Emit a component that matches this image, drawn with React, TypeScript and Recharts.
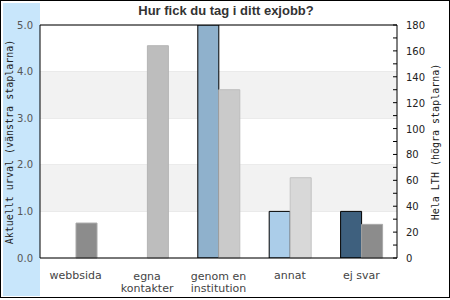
import { BarChart, Bar, XAxis, YAxis, Cell, CartesianGrid, ReferenceArea, ReferenceLine } from "recharts";

const categories = ["webbsida", "egna\nkontakter", "genom en\ninstitution", "annat", "ej svar"];
const urval = [0, 0, 5, 1, 1];
const lth = [27, 164, 130, 62, 26];
const leftTicks = [0, 1, 2, 3, 4, 5];
const rightTicks = [0, 10, 20, 30, 40, 50, 60, 70, 80, 90, 100, 110, 120, 130, 140, 150, 160, 170, 180];

const urvalColors = ["#8fb1cc", "#8fb1cc", "#8fb1cc", "#abcde9", "#3e607e"];
const lthColors = ["#8c8c8c", "#bdbdbd", "#cacaca", "#d8d8d8", "#8c8c8c"];
const lthStrokes = ["#a8a8a8", "#b4b4b4", "#bdbdbd", "#c2c2c2", "#a8a8a8"];

const data = categories.map((name, i) => ({ name, urval: urval[i], lth: lth[i] }));

const FONT = "'DejaVu Sans', sans-serif";
const MONO = "'DejaVu Sans Mono', monospace";

function CategoryTick({ x, y, payload }: any) {
  const lines = String(payload.value).split("\n");
  const first = lines.length > 1 ? 20 : 19;
  return (
    <text x={x} y={y} textAnchor="middle" fontFamily={FONT} fontSize={11} fill="#444">
      {lines.map((l, i) => (
        <tspan key={i} x={x} dy={i === 0 ? first : 12}>
          {l}
        </tspan>
      ))}
    </text>
  );
}

function RightTick({ x, y, payload }: any) {
  return (
    <g>
      <line x1={x - 4} y1={y} x2={x} y2={y} stroke="#000" />
      {payload.value % 20 === 0 && (
        <text x={x + 9} y={y + 4} textAnchor="start" fontFamily={FONT} fontSize={10} fill="#222">
          {payload.value}
        </text>
      )}
    </g>
  );
}

export default function App() {
  return (
    <div style={{ position: "absolute", left: 0, top: 0, width: 450, height: 300 }}>
      <style>{`body{margin:0}`}</style>
      <div
        style={{
          position: "absolute",
          left: 0,
          top: 0,
          width: 448,
          height: 296,
          border: "1px solid #000",
        }}
      />
      <div style={{ position: "absolute", left: 3, top: 3, width: 37, height: 293, background: "#c8e6fb" }} />
      <div
        style={{
          position: "absolute",
          left: 0,
          top: 3,
          width: 452,
          textAlign: "center",
          fontFamily: "'Liberation Sans', Arial, sans-serif",
          fontWeight: "bold",
          fontSize: 13,
          color: "#333",
        }}
      >
        Hur fick du tag i ditt exjobb?
      </div>
      <div style={{ position: "absolute", left: 0, top: 0 }}>
        <BarChart
          width={450}
          height={300}
          data={data}
          margin={{ top: 25, right: 0, bottom: 0, left: 0 }}
          barSize={21}
          barGap={0}
        >
          <ReferenceArea yAxisId="left" y1={1} y2={2} fill="#f2f2f2" fillOpacity={1} stroke="none" />
          <ReferenceArea yAxisId="left" y1={3} y2={4} fill="#f2f2f2" fillOpacity={1} stroke="none" />
          <CartesianGrid yAxisId="left" vertical={false} stroke="#e0e0e0" />
          <XAxis
            dataKey="name"
            height={42}
            axisLine={{ stroke: "#000" }}
            tickLine={false}
            tickSize={0}
            interval={0}
            tick={<CategoryTick />}
          />
          <YAxis
            yAxisId="left"
            width={40}
            domain={[0, 5]}
            ticks={leftTicks}
            allowDataOverflow
            axisLine={{ stroke: "#000" }}
            tickLine={false}
            tickSize={0}
            tickMargin={7}
            tickFormatter={(v) => Number(v).toFixed(1)}
            tick={{ fontFamily: FONT, fontSize: 10, fill: "#555" }}
            label={{
              content: () => (
                <text
                  transform="translate(13,142) rotate(-90)"
                  textAnchor="middle"
                  fontFamily={MONO}
                  fontSize={10}
                  fill="#222"
                >
                  Aktuellt urval (vänstra staplarna)
                </text>
              ),
            }}
          />
          <YAxis
            yAxisId="right"
            orientation="right"
            width={53}
            domain={[0, 180]}
            ticks={rightTicks}
            interval={0}
            axisLine={{ stroke: "#000" }}
            tickLine={false}
            tickSize={0}
            tickMargin={0}
            tick={<RightTick />}
            label={{
              content: () => (
                <text
                  transform="translate(439,142) rotate(-90)"
                  textAnchor="middle"
                  fontFamily={MONO}
                  fontSize={10}
                  fill="#222"
                >
                  Hela LTH (högra staplarna)
                </text>
              ),
            }}
          />
          <ReferenceLine yAxisId="left" y={5} stroke="#000" />
          <Bar yAxisId="left" dataKey="urval" stroke="#000" strokeWidth={1} isAnimationActive={false}>
            {data.map((_, i) => (
              <Cell key={i} fill={urvalColors[i]} />
            ))}
          </Bar>
          <Bar yAxisId="right" dataKey="lth" strokeWidth={1} isAnimationActive={false}>
            {data.map((_, i) => (
              <Cell key={i} fill={lthColors[i]} stroke={lthStrokes[i]} />
            ))}
          </Bar>
        </BarChart>
      </div>
    </div>
  );
}
